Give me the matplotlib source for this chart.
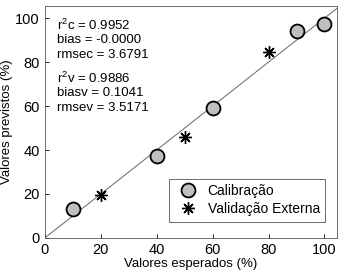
import numpy as np
import matplotlib.pyplot as plt

plt.rcParams['font.family'] = ['Liberation Sans', 'DejaVu Sans']

# calibração
cal_x = [10, 40, 60, 90, 100]
cal_y = [13, 37.5, 59, 94, 97.5]
# validação externa
val_x = [20, 50, 80]
val_y = [19.5, 46, 84.5]

stats_c = ['$\\mathregular{r^2c}$ = 0.9952', 'bias = -0.0000', 'rmsec = 3.6791']
stats_v = ['$\\mathregular{r^2v}$ = 0.9886', 'biasv = 0.1041', 'rmsev = 3.5171']

fig = plt.figure(figsize=(3.45, 2.76), dpi=100)
ax = fig.add_axes([0.130, 0.138, 0.847, 0.840])

ax.plot([0, 105], [0, 105], color='#666666', lw=0.7)
ax.plot(cal_x, cal_y, 'o', ms=10, mfc='#bfbfbf', mec='black', mew=1.3,
        ls='none', label='Calibração')
ax.plot(val_x, val_y, ms=9, color='black', ls='none', mew=1.0,
        marker=(8, 2, 0), label='Validação Externa')

ax.set_xlim(0, 104.5)
ax.set_ylim(0, 105.5)
ax.set_xticks([0, 20, 40, 60, 80, 100])
ax.set_yticks([0, 20, 40, 60, 80, 100])
ax.tick_params(labelsize=10.5, direction='in', length=3, width=0.6)
for s in ax.spines.values():
    s.set_linewidth(0.6)
    s.set_color('#555555')

ax.set_xlabel('Valores esperados (%)', fontsize=9.5, labelpad=1)
ax.set_ylabel('Valores previstos (%)', fontsize=9.5, labelpad=2)

y0 = 96.5
for i, t in enumerate(stats_c):
    ax.text(4.5, y0 - i * 6.6, t, fontsize=9.5, va='center')
y1 = 72.5
for i, t in enumerate(stats_v):
    ax.text(4.5, y1 - i * 6.6, t, fontsize=9.5, va='center')

leg = ax.legend(loc='lower right', fontsize=10, fancybox=False, framealpha=1,
                edgecolor='#555555', borderpad=0.4, handletextpad=0.4,
                labelspacing=0.3, borderaxespad=0,
                bbox_to_anchor=(0.96, 0.069))
leg.get_frame().set_linewidth(0.6)

fig.savefig('out.png', dpi=100)
